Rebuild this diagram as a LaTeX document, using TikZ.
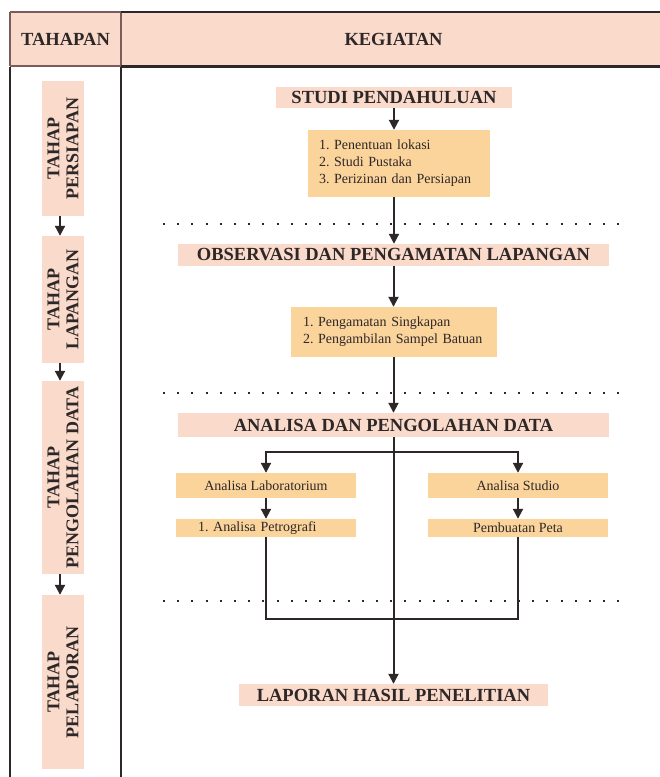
\documentclass[tikz,border=0pt]{standalone}
\usepackage{fontspec}
\setmainfont{Liberation Serif}
\usetikzlibrary{arrows.meta}
\definecolor{peach}{HTML}{F9DACB}
\definecolor{orng}{HTML}{FBD49C}
\definecolor{ink}{HTML}{2E2727}
\definecolor{mauve}{HTML}{7A5C5C}
\frenchspacing
\begin{document}
\begin{tikzpicture}[x=1pt,y=-1pt,
  head/.style={font=\bfseries\fontsize{18.5}{20}\selectfont, text=ink},
  pbox/.style={fill=peach, inner sep=0pt, head},
  obox/.style={fill=orng, inner sep=0pt, text=ink, font=\fontsize{14}{17}\selectfont},
  side/.style={fill=peach, inner sep=0pt, rotate=90, align=center, text=ink, font=\bfseries\fontsize{18}{19}\selectfont, minimum height=42pt},
  arr/.style={draw=ink, line width=2pt, -{Triangle[width=10pt,length=10pt]}},
  ln/.style={draw=ink, line width=2pt},
  dots/.style={draw=ink, line width=2pt, dash pattern=on 2pt off 12.2pt},
]
\useasboundingbox (0,0) rectangle (660,777);
% header
\fill[peach] (10,12) rectangle (662,66);
\draw[mauve, line width=1.6pt] (10,12) -- (121,12) (10,66) -- (121,66) (10,12) -- (10,66) (121,12) -- (121,66);
\draw[ink, line width=2.5pt] (121,12) -- (662,12);
\draw[ink, line width=3pt] (121,66) -- (662,66);
\draw[ink, line width=1.8pt] (10,67) -- (10,777) (121,67) -- (121,777);
\node[head] (hA) at (65.5,39.5) {TAHAPAN};
\node[head] (hB) at (393.5,39.5) {KEGIATAN};
% left column
\node[side, minimum width=135pt] (p1) at (63,148.5) {TAHAP\\PERSIAPAN};
\node[side, minimum width=127pt] (p2) at (63,299.5) {TAHAP\\LAPANGAN};
\node[side, minimum width=193pt] (p3) at (63,477.5) {TAHAP\\PENGOLAHAN DATA};
\node[side, minimum width=174pt] (p4) at (63,682) {TAHAP\\PELAPORAN};
\draw[arr] ([xshift=-3pt]p1.west) -- ([xshift=-3pt]p2.east);
\draw[arr] ([xshift=-3pt]p2.west) -- ([xshift=-3pt]p3.east);
\draw[arr] ([xshift=-3pt]p3.west) -- ([xshift=-3pt]p4.east);
% dotted separators
\coordinate (d1a) at (163,224); \coordinate (d1b) at (622,224);
\coordinate (d2a) at (163,393); \coordinate (d2b) at (622,393);
\coordinate (d3a) at (163,601); \coordinate (d3b) at (622,601);
\draw[dots] (d1a) -- (d1b);
\draw[dots] (d2a) -- (d2b);
\draw[dots] (d3a) -- (d3b);
% main column
\node[pbox, minimum width=236pt, minimum height=21pt] (studi) at (394,97.5) {STUDI PENDAHULUAN};
\node[obox, minimum width=182pt, minimum height=67pt, text width=160pt, align=left] (b1) at (399,163.5) {1. Penentuan lokasi\\2. Studi Pustaka\\3. Perizinan dan Persiapan};
\node[pbox, minimum width=431pt, minimum height=22pt] (obs) at (393.5,255) {OBSERVASI DAN PENGAMATAN LAPANGAN};
\node[obox, minimum width=206pt, minimum height=50pt, text width=182pt, align=left] (b2) at (394,332) {1. Pengamatan Singkapan\\2. Pengambilan Sampel Batuan};
\node[pbox, minimum width=431pt, minimum height=24pt] (ana) at (393.5,425) {ANALISA DAN PENGOLAHAN DATA};
\node[obox, minimum width=180pt, minimum height=25pt] (lab) at (266,485.5) {Analisa Laboratorium};
\node[obox, minimum width=180pt, minimum height=25pt] (stud) at (518,485.5) {Analisa Studio};
\node[obox, minimum width=180pt, minimum height=18pt, text width=136pt, align=left] (petro) at (266,528) {1. Analisa Petrografi};
\node[obox, minimum width=180pt, minimum height=18pt] (peta) at (518,528) {Pembuatan Peta};
\node[pbox, minimum width=309pt, minimum height=22pt] (lap) at (393.5,695) {LAPORAN HASIL PENELITIAN};
% connectors
\draw[arr] (studi.south) -- (studi.south |- b1.north);
\draw[arr] (studi.south |- b1.south) -- (studi.south |- obs.north);
\draw[arr] (obs.south) -- (obs.south |- b2.north);
\draw[arr] (obs.south |- b2.south) -- (obs.south |- ana.north);
\draw[arr] (ana.south) -- (ana.south |- lap.north);
\coordinate (br) at (393.5,452);
\draw[arr] (br) -| (lab.north);
\draw[arr] (br) -| (stud.north);
\draw[arr] (lab.south) -- (lab.south |- petro.north);
\draw[arr] (stud.south) -- (stud.south |- peta.north);
\coordinate (jn) at (393.5,619);
\draw[ln] (lab.south |- petro.south) -- (lab.south |- jn) -- (stud.south |- jn) -- (stud.south |- peta.south);
\end{tikzpicture}
\end{document}
